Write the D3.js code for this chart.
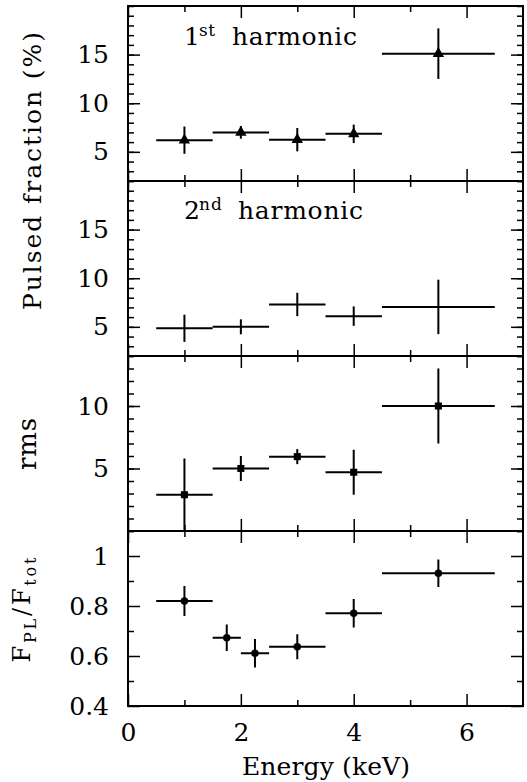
<!DOCTYPE html>
<html>
<head>
<meta charset="utf-8">
<title>Pulsed fraction vs energy</title>
<style>
  body { margin: 0; background: #fff; }
  svg { display: block; }
  text { font-family: "DejaVu Serif", serif; fill: #000; }
</style>
</head>
<body>
<script src="https://d3js.org/d3.v7.min.js"></script>
<script>
// values
const energy = [1, 2, 3, 4, 5.5];
const energyHalf = [0.5, 0.5, 0.5, 0.5, 1.0];
const frac1st = [6.2, 7.0, 6.25, 6.85, 15.1];
const frac1stErr = [1.4, 0.65, 1.2, 0.95, 2.6];
const frac2nd = [4.85, 5.0, 7.3, 6.1, 7.05];
const frac2ndErr = [1.4, 0.77, 1.2, 1.0, 2.8];
const rmsVal = [2.9, 5.0, 5.95, 4.7, 10.0];
const rmsErr = [2.9, 1.0, 0.6, 1.8, 3.0];
const energyPL = [1, 1.75, 2.25, 3, 4, 5.5];
const energyPLHalf = [0.5, 0.25, 0.25, 0.5, 0.5, 1.0];
const plRatio = [0.82, 0.673, 0.611, 0.637, 0.771, 0.931];
const plRatioErr = [0.06, 0.053, 0.057, 0.05, 0.057, 0.055];

const xMajor = [0, 2, 4, 6];
const xMinor = [1, 3, 5];

const w = 527, h = 782;
const left = 128, right = 523, top0 = 6, panelH = 175;

const svg = d3.select("body").append("svg").attr("width", w).attr("height", h);
const x = d3.scaleLinear().domain([0, 7]).range([left, right]);

function zip(xs, hw, ys, es) {
  return xs.map((e, i) => ({ e: e, hw: hw[i], v: ys[i], err: es[i] }));
}

const panels = [
  { domain: [2, 20], major: [5, 10, 15], minor: d3.range(2, 21), fmt: d3.format("d"),
    data: zip(energy, energyHalf, frac1st, frac1stErr), marker: d3.symbolTriangle, size: 56 },
  { domain: [2, 20], major: [5, 10, 15], minor: d3.range(2, 21), fmt: d3.format("d"),
    data: zip(energy, energyHalf, frac2nd, frac2ndErr), marker: null },
  { domain: [0, 14], major: [5, 10], minor: d3.range(0, 15), fmt: d3.format("d"),
    data: zip(energy, energyHalf, rmsVal, rmsErr), marker: d3.symbolSquare, size: 50 },
  { domain: [0.4, 1.1], major: [0.4, 0.6, 0.8, 1.0], minor: [0.5, 0.7, 0.9, 1.1],
    fmt: d => d === 1 ? "1" : d3.format(".1f")(d),
    data: zip(energyPL, energyPLHalf, plRatio, plRatioErr), marker: d3.symbolCircle, size: 44 }
];

panels.forEach((p, k) => {
  const y0 = top0 + k * panelH, y1 = y0 + panelH;
  const y = d3.scaleLinear().domain(p.domain).range([y1, y0]);
  const g = svg.append("g");

  const clipId = "clip" + k;
  svg.append("clipPath").attr("id", clipId)
    .append("rect").attr("x", left).attr("y", y0).attr("width", right - left).attr("height", panelH);

  // y ticks, left and right
  g.append("g").attr("transform", `translate(${left},0)`)
    .call(d3.axisLeft(y).tickValues(p.major).tickSize(-12).tickPadding(19).tickFormat(p.fmt));
  g.append("g").attr("transform", `translate(${left},0)`)
    .call(d3.axisLeft(y).tickValues(p.minor).tickSize(-6).tickFormat(""));
  g.append("g").attr("transform", `translate(${right},0)`)
    .call(d3.axisRight(y).tickValues(p.major).tickSize(-12).tickFormat(""));
  g.append("g").attr("transform", `translate(${right},0)`)
    .call(d3.axisRight(y).tickValues(p.minor).tickSize(-6).tickFormat(""));

  // x ticks, top and bottom
  g.append("g").attr("transform", `translate(0,${y1})`)
    .call(d3.axisBottom(x).tickValues(xMajor).tickSize(-12).tickPadding(17)
      .tickFormat(k === 3 ? d3.format("d") : ""));
  g.append("g").attr("transform", `translate(0,${y1})`)
    .call(d3.axisBottom(x).tickValues(xMinor).tickSize(-6).tickFormat(""));
  g.append("g").attr("transform", `translate(0,${y0})`)
    .call(d3.axisTop(x).tickValues(xMajor).tickSize(-12).tickFormat(""));
  g.append("g").attr("transform", `translate(0,${y0})`)
    .call(d3.axisTop(x).tickValues(xMinor).tickSize(-6).tickFormat(""));

  g.selectAll(".domain").remove();
  g.selectAll(".tick line").attr("stroke", "#000").attr("stroke-width", 1.5);
  g.selectAll(".tick text").style("font-size", "25px").style("fill", "#000");

  // frame
  g.append("rect").attr("x", left).attr("y", y0).attr("width", right - left).attr("height", panelH)
    .attr("fill", "none").attr("stroke", "#000").attr("stroke-width", 2);

  // error bars
  const pts = g.append("g").attr("clip-path", `url(#${clipId})`);
  pts.selectAll("line.xerr").data(p.data).join("line").attr("class", "xerr")
    .attr("x1", d => x(d.e - d.hw)).attr("x2", d => x(d.e + d.hw))
    .attr("y1", d => y(d.v)).attr("y2", d => y(d.v))
    .attr("stroke", "#000").attr("stroke-width", 2);
  pts.selectAll("line.yerr").data(p.data).join("line").attr("class", "yerr")
    .attr("x1", d => x(d.e)).attr("x2", d => x(d.e))
    .attr("y1", d => y(d.v - d.err)).attr("y2", d => y(d.v + d.err))
    .attr("stroke", "#000").attr("stroke-width", 2);
  if (p.marker) {
    pts.selectAll("path.mk").data(p.data).join("path").attr("class", "mk")
      .attr("transform", d => `translate(${x(d.e)},${y(d.v)})`)
      .attr("d", d3.symbol(p.marker, p.size)).attr("fill", "#000");
  }
});

// harmonic labels
function harmonicLabel(num, sup, yBase, xWord, supLen) {
  svg.append("text").attr("x", 184).attr("y", yBase).attr("font-size", 25).text(num);
  svg.append("text").attr("x", 199).attr("y", yBase - 9).attr("font-size", 17)
    .attr("textLength", supLen).attr("lengthAdjust", "spacing").text(sup);
  svg.append("text").attr("x", xWord).attr("y", yBase).attr("font-size", 25)
    .attr("textLength", 125).attr("lengthAdjust", "spacing").text("harmonic");
}
harmonicLabel("1", "st", 45, 232, 16);
harmonicLabel("2", "nd", 219, 238, 23);

// axis titles
svg.append("text").attr("x", 326).attr("y", 775).attr("text-anchor", "middle")
  .attr("font-size", 25).attr("textLength", 168).attr("lengthAdjust", "spacing")
  .text("Energy (keV)");

svg.append("text").attr("transform", "translate(41,171) rotate(-90)")
  .attr("text-anchor", "middle").attr("font-size", 25)
  .attr("textLength", 278).attr("lengthAdjust", "spacing")
  .text("Pulsed fraction (%)");

svg.append("text").attr("transform", "translate(36,444) rotate(-90)")
  .attr("text-anchor", "middle").attr("font-size", 26)
  .attr("textLength", 52).attr("lengthAdjust", "spacing")
  .text("rms");

const fr = svg.append("text").attr("transform", "translate(30,610) rotate(-90)")
  .attr("text-anchor", "middle").attr("font-size", 24)
  .attr("textLength", 105).attr("lengthAdjust", "spacing");
fr.append("tspan").text("F");
fr.append("tspan").attr("font-size", 16).attr("dy", 6).text("PL");
fr.append("tspan").attr("dy", -6).text("/F");
fr.append("tspan").attr("font-size", 16).attr("dy", 6).text("tot");
</script>
</body>
</html>
